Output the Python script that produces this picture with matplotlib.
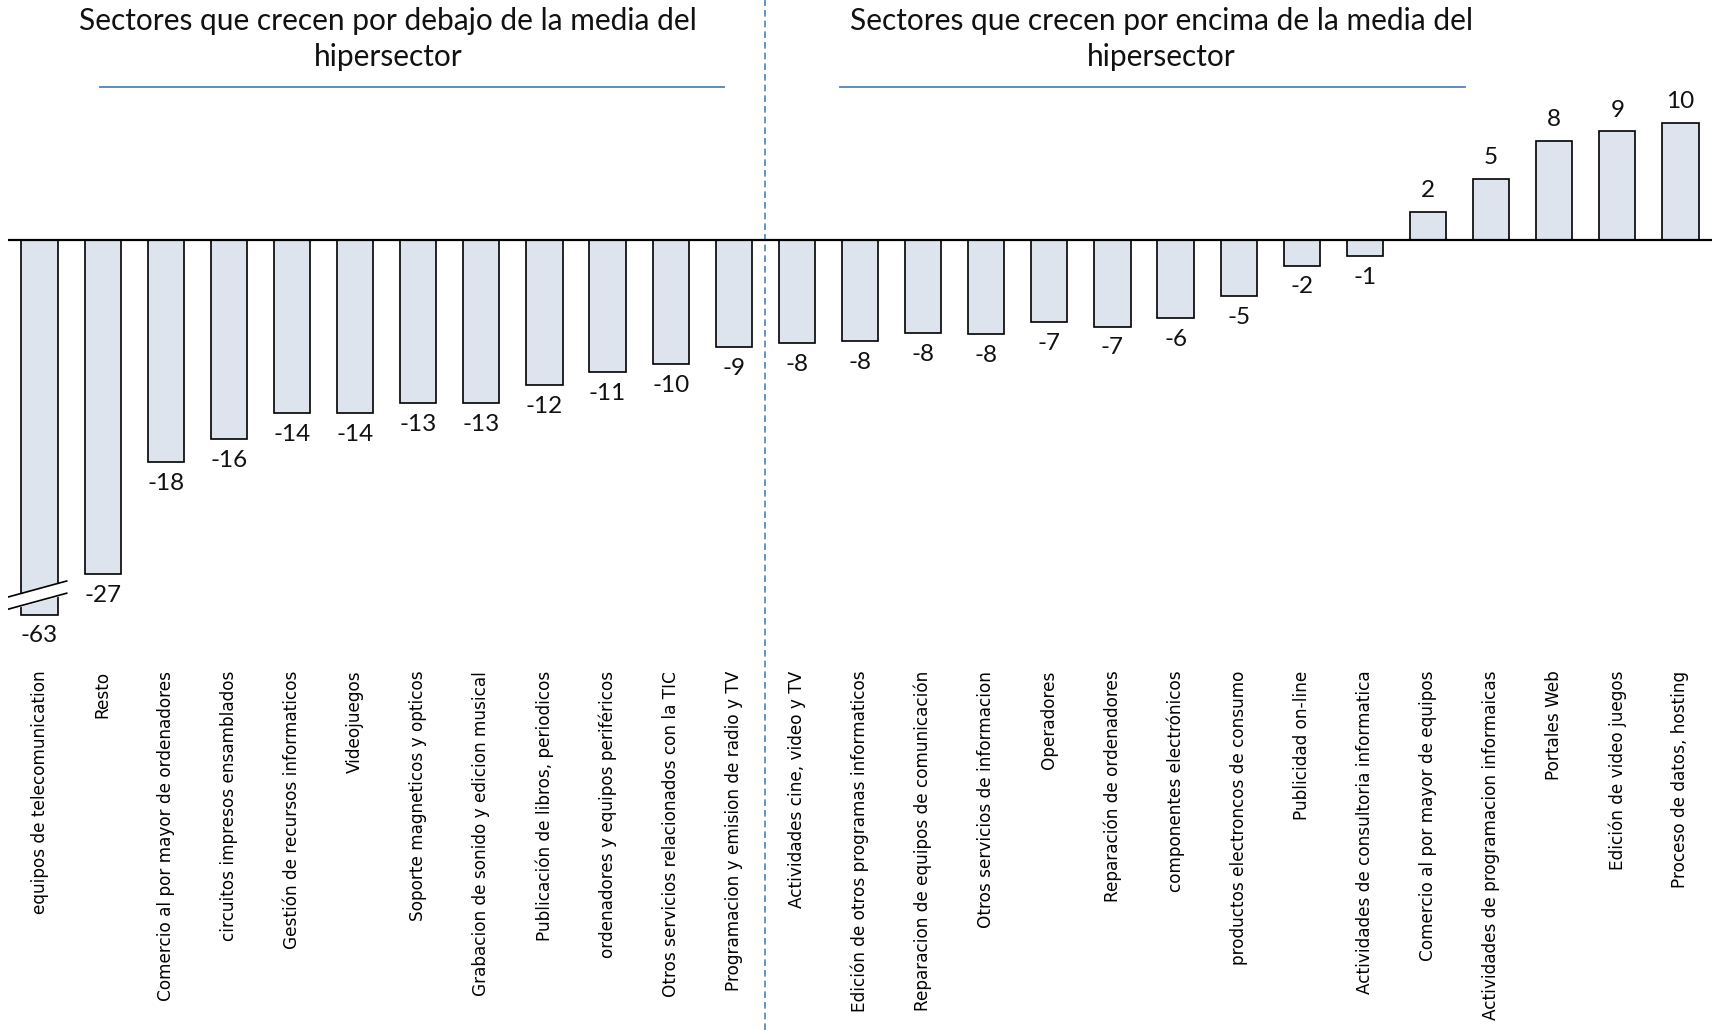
import numpy as np
import matplotlib
matplotlib.use("Agg")
import matplotlib.pyplot as plt
from matplotlib.transforms import blended_transform_factory
from matplotlib.lines import Line2D

# sectors, sorted by growth (%)
sectores = [
    "equipos de telecomunication", "Resto", "Comercio al por mayor de ordenadores",
    "circuitos impresos ensamblados", "Gestión de recursos informaticos", "Videojuegos",
    "Soporte magneticos y opticos", "Grabacion de sonido y edicion musical",
    "Publicación de libros, periodicos", "ordenadores y equipos periféricos",
    "Otros servicios relacionados con la TIC", "Programacion y emision de radio y TV",
    "Actividades cine, video y TV", "Edición de otros programas informaticos",
    "Reparacion de equipos de comunicación", "Otros servicios de informacion",
    "Operadores", "Reparación de ordenadores", "componentes electrónicos",
    "productos electroncos de consumo", "Publicidad on-line",
    "Actividades de consultoria informatica", "Comercio al por mayor de equipos",
    "Actividades de programacion informaicas", "Portales Web", "Edición de video juegos",
    "Proceso de datos, hosting",
]
crecimiento = [-63, -27.4, -18.2, -16.3, -14.2, -14.2, -13.4, -13.4, -11.9, -10.8, -10.2, -8.8,
               -8.45, -8.3, -7.6, -7.7, -6.7, -7.1, -6.4, -4.6, -2.1, -1.3,
               2.3, 5.0, 8.1, 8.9, 9.6]
titulos = ["Sectores que crecen por debajo de la media del\nhipersector",
           "Sectores que crecen por encima de la media del\nhipersector"]
n_debajo = 12   # sectors left of the split
CAP = -30.7     # broken-axis cut for the longest bar

W, H = 1718, 1030
fig = plt.figure(figsize=(W/100, H/100), dpi=100)
ax = fig.add_axes([8/W, 1-630.4/H, 1704/W, 512.4/H])

x = np.arange(len(sectores))
vals = np.array(crecimiento)
shown = np.maximum(vals, CAP)
ax.bar(x, shown, width=0.575, color="#dde4ee", edgecolor="black", linewidth=1.2, zorder=3)
ax.axhline(0, color="black", lw=1.6, zorder=4)

for xi, v, s in zip(x, vals, shown):
    off = 1.75
    y = s + off if v > 0 else s - off
    ax.text(xi, y, f"{v:.0f}", ha="center", va="center", fontsize=17.5,
            family="Lato", color="#111111")

# break mark on the clipped bar
for xi, v in zip(x, vals):
    if v < CAP:
        bx = [xi - 0.49, xi + 0.43]
        top = [CAP + 1.45, CAP + 2.75]
        bot = [CAP + 0.45, CAP + 1.75]
        ax.fill_between(bx, bot, top, color="white", zorder=5)
        ax.plot(bx, top, color="black", lw=1.2, zorder=6)
        ax.plot(bx, bot, color="black", lw=1.2, zorder=6)

ax.set_xlim(-0.5, len(sectores) - 0.5)
ax.set_ylim(-32, 10)
ax.set_xticks(x)
ax.set_xticklabels(sectores, rotation=90, fontsize=12.2, family="DejaVu Sans")
ax.tick_params(axis="x", length=0, pad=29)
ax.set_yticks([])
for sp in ax.spines.values():
    sp.set_visible(False)

# split line
trans = blended_transform_factory(ax.transData, fig.transFigure)
ax.plot([n_debajo - 0.5] * 2, [0.0, 1.0], transform=trans, color="#4f81bd",
        lw=1.2, ls=(0, (4, 2.4)), clip_on=False)

# group titles with underlines
for t, cx, (l0, l1) in zip(titulos, [388, 1161], [(100, 724), (840, 1465)]):
    fig.text(cx/W, 1-39/H, t, ha="center", va="center", fontsize=21.5,
             family="Lato", linespacing=1.35, color="#111111")
    fig.add_artist(Line2D([l0/W, l1/W], [1-86.6/H]*2, color="#4f81bd", lw=1.3))

fig.savefig("out.png", dpi=100)
